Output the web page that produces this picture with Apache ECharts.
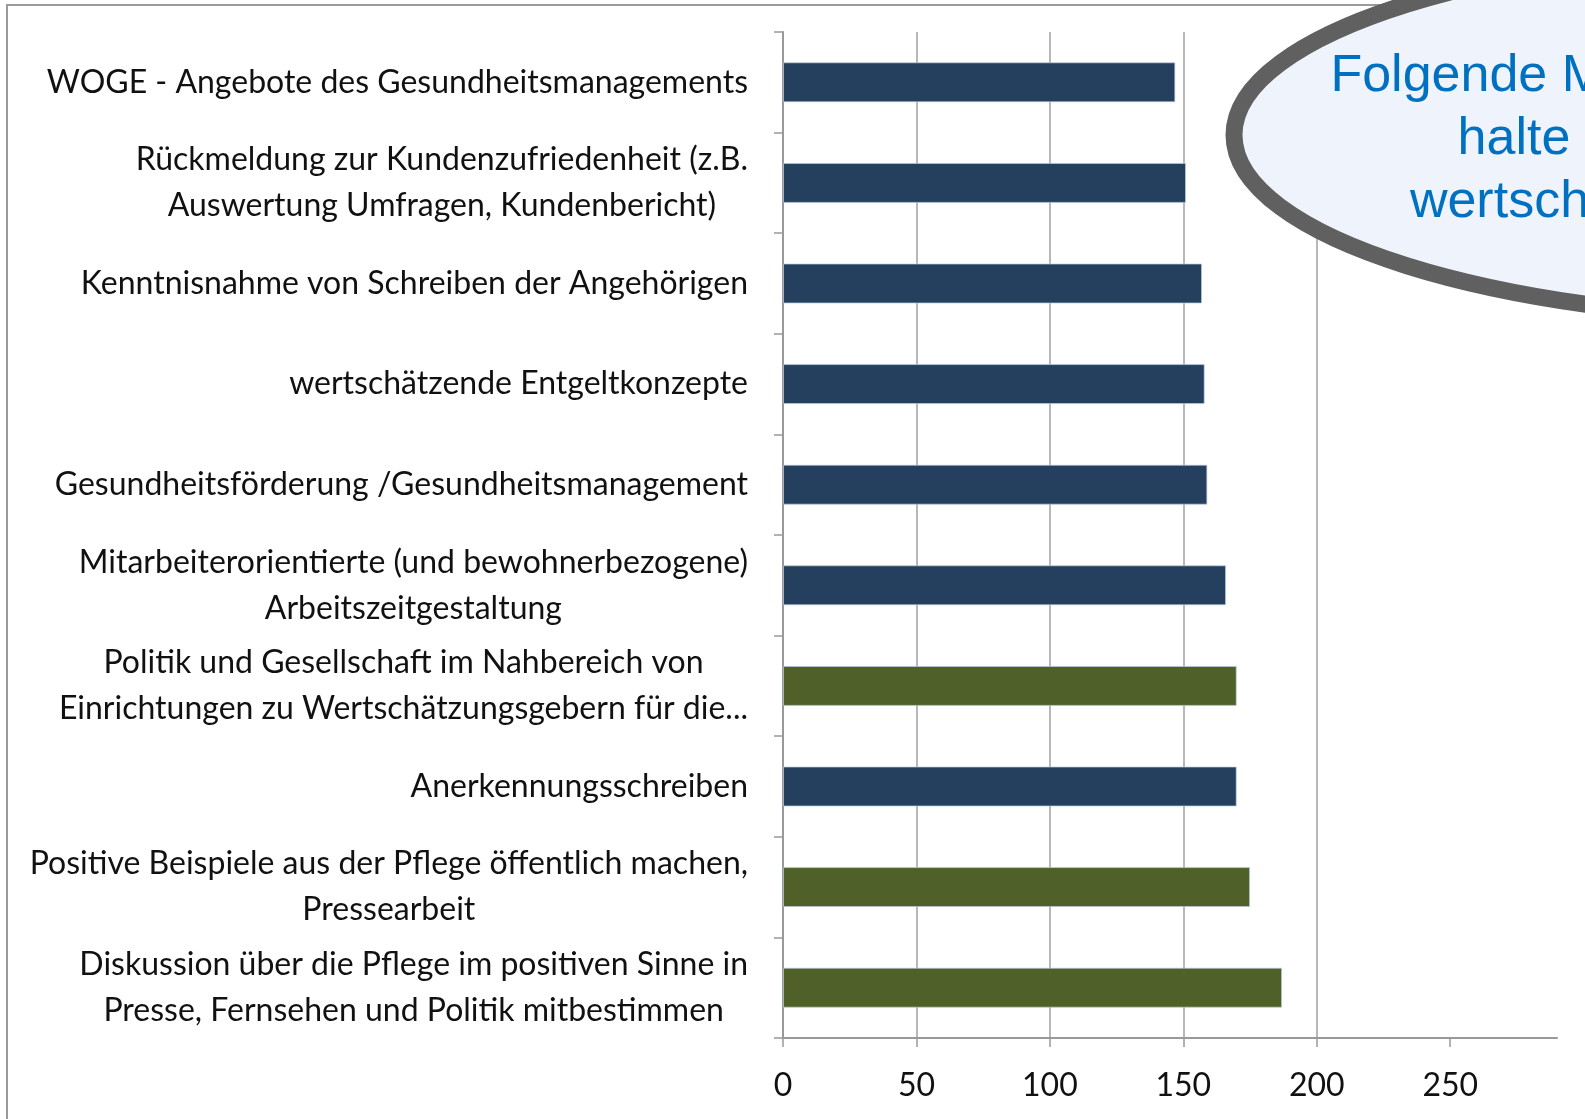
<!DOCTYPE html>
<html>
<head>
<meta charset="utf-8">
<script src="https://cdn.jsdelivr.net/npm/echarts@6/dist/echarts.min.js"></script>
<style>
  html, body { margin: 0; padding: 0; background: #fff; }
  #chart { width: 1585px; height: 1119px; }
</style>
</head>
<body>
<div id="chart"></div>
<script>
// categories, top to bottom
const categories = [
    "WOGE - Angebote des Gesundheitsmanagements",
    "Rückmeldung zur Kundenzufriedenheit (z.B.\nAuswertung Umfragen, Kundenbericht)",
    "Kenntnisnahme von Schreiben der Angehörigen",
    "wertschätzende Entgeltkonzepte",
    "Gesundheitsförderung /Gesundheitsmanagement",
    "Mitarbeiterorientierte (und bewohnerbezogene)\nArbeitszeitgestaltung",
    "Politik und Gesellschaft im Nahbereich von\nEinrichtungen zu Wertschätzungsgebern für die...",
    "Anerkennungsschreiben",
    "Positive Beispiele aus der Pflege öffentlich machen,\nPressearbeit",
    "Diskussion über die Pflege im positiven Sinne in\nPresse, Fernsehen und Politik mitbestimmen"
];
const values = [147, 151, 157, 158, 159, 166, 170, 170, 175, 187];
// which group each bar belongs to (einrichtung = intern, gesellschaft = extern)
const groups = ["intern", "intern", "intern", "intern", "intern", "intern", "extern", "intern", "extern", "extern"];
const xTicks = [0, 50, 100, 150, 200, 250];
const xMax = 290;

const groupColors = { intern: "#253f5f", extern: "#4f6128" };
const labelFont = "Lato, 'Open Sans', sans-serif";

const chart = echarts.init(document.getElementById("chart"));

const option = {
    backgroundColor: "#ffffff",
    animation: false,
    grid: {
        left: 783,
        right: 28,
        top: 32,
        bottom: 81,
        containLabel: false,
    },
    xAxis: {
        type: "value",
        min: 0,
        max: xMax,
        interval: 50,
        axisLine: { show: true, lineStyle: { color: "#999", width: 2 } },
        axisTick: {
            show: true,
            length: 9,
            customValues: xTicks,
            lineStyle: { color: "#999", width: 1.5 },
        },
        axisLabel: {
            customValues: xTicks,
            margin: 32,
            fontSize: 32,
            fontFamily: labelFont,
            color: "#111",
        },
        splitLine: {
            show: true,
            showMinLine: false,
            showMaxLine: false,
            lineStyle: { color: ["#a0a0a0", "#a0a0a0", "#a0a0a0", "#a0a0a0", "#a0a0a0", "#a0a0a0", "rgba(0,0,0,0)"], width: 1.5 },
        },
    },
    yAxis: {
        type: "category",
        inverse: true,
        data: categories,
        axisLine: { show: true, lineStyle: { color: "#999", width: 2 } },
        axisTick: { show: true, length: 9, lineStyle: { color: "#999", width: 1.5 } },
        axisLabel: {
            interval: 0,
            margin: 35,
            align: "right",
            formatter: (v) => v.split("\n").map((l) => "{c|" + l + "}").join("\n"),
            rich: {
                c: {
                    align: "center",
                    fontSize: 32,
                    lineHeight: 46,
                    fontFamily: labelFont,
                    color: "#111",
                },
            },
        },
    },
    series: [
        {
            type: "bar",
            barWidth: 40,
            data: values.map((v, i) => ({
                value: v,
                itemStyle: { color: groupColors[groups[i]] },
            })),
            itemStyle: { borderColor: "rgba(190,205,225,0.7)", borderWidth: 1 },
        },
    ],
    graphic: [
        {
            type: "rect",
            z: -10,
            silent: true,
            shape: { x: 7, y: 5, width: 1700, height: 1300 },
            style: { fill: "none", stroke: "#9a9a9a", lineWidth: 2 },
        },
        {
            type: "ellipse",
            z: 100,
            silent: true,
            shape: { cx: 1825, cy: 135, rx: 591, ry: 185 },
            style: { fill: "#eff3fc", stroke: "#606060", lineWidth: 17 },
        },
        {
            type: "text",
            z: 101,
            silent: true,
            x: 1592,
            y: 45,
            style: {
                text: "Folgende Maßnahmen\nhalte ich für\nwertschätzende",
                textAlign: "center",
                fontSize: 52,
                lineHeight: 63,
                fontFamily: "'Liberation Sans', Arial, sans-serif",
                fill: "#0070c0",
            },
        },
    ],
};

chart.setOption(option);
window.addEventListener("resize", () => chart.resize());
</script>
</body>
</html>
